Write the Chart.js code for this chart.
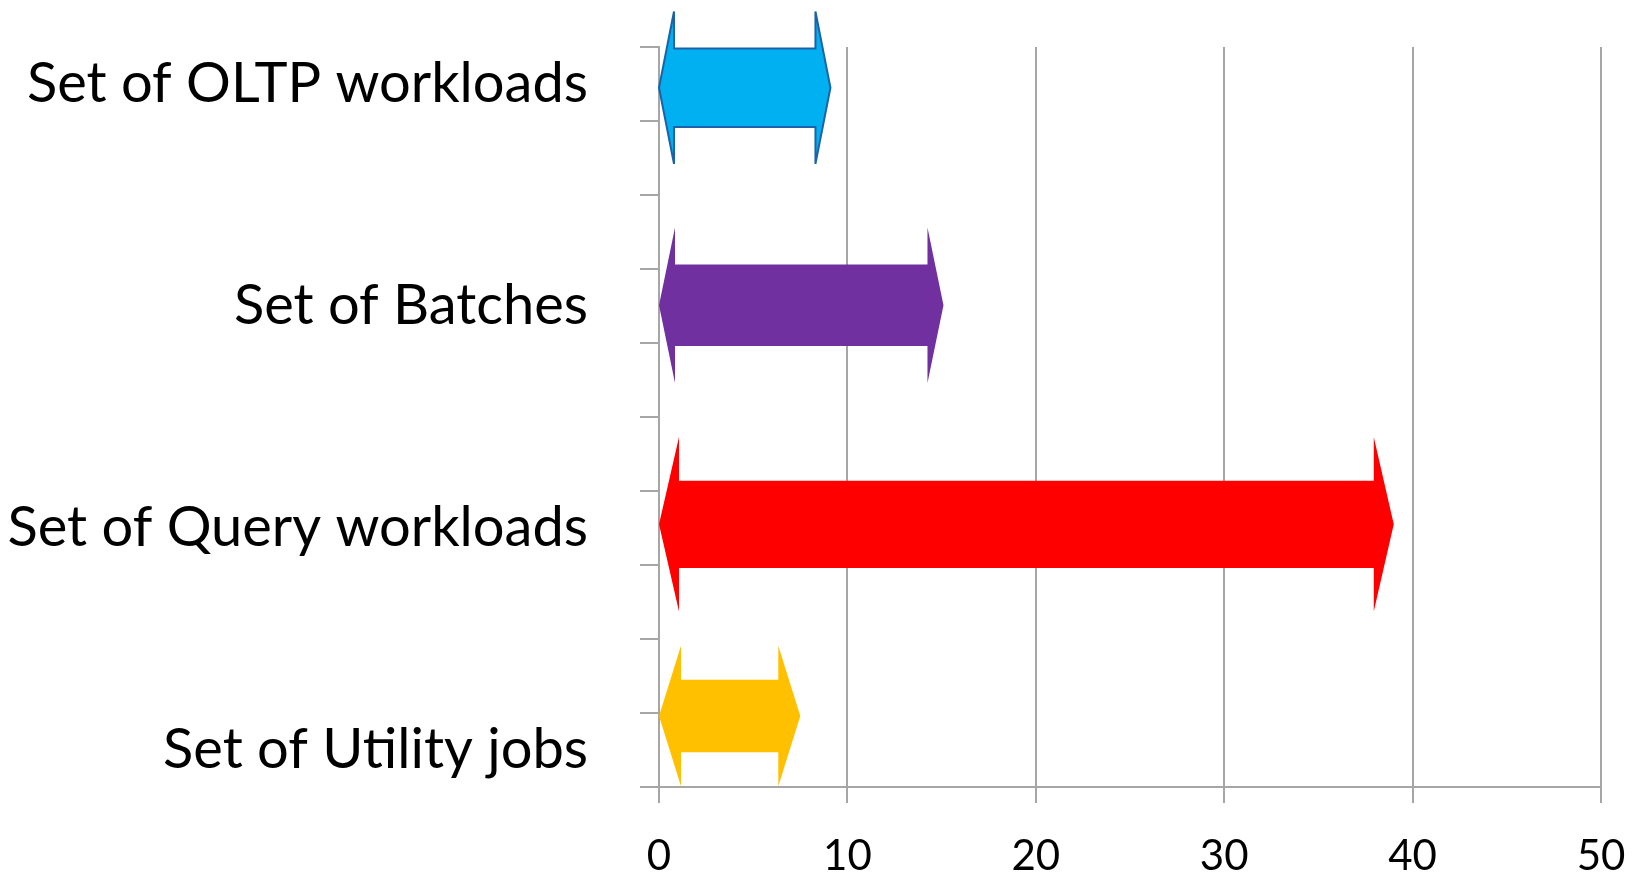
<!DOCTYPE html>
<html>
<head>
<meta charset="utf-8">
<title>Workload ranges</title>
<script src="https://cdn.jsdelivr.net/npm/chart.js@4"></script>
<style>
  html, body { margin: 0; padding: 0; background: #fff; }
  canvas { display: block; }
</style>
</head>
<body>
<canvas id="chart" width="1632" height="877"></canvas>
<script>
// categories on the y axis (10 rows, only 4 carry a label)
const categories = [
  "Set of OLTP workloads", "", "",
  "Set of Batches", "", "",
  "Set of Query workloads", "", "",
  "Set of Utility jobs",
];

// arrows: where each one starts/ends on the x axis and which row it sits on
const arrowNames = ["OLTP", "Batches", "Query", "Utility"];
const arrowStart = [0, 0, 0, 0];
const arrowEnd = [9.1, 15.1, 39.0, 7.5];
const arrowRow = [0.05, 2.99, 5.95, 8.54];

const xTicks = [0, 10, 20, 30, 40, 50];

// look of each arrow (shaft / head half height in rows, head length in px)
const arrowStyle = [
  { fill: "#00B0F0", stroke: "#1C62A8", shaft: 0.53, head: 1.03, len: 15 },
  { fill: "#7030A0", stroke: null, shaft: 0.55, head: 1.05, len: 16 },
  { fill: "#FF0000", stroke: null, shaft: 0.59, head: 1.18, len: 20 },
  { fill: "#FFC000", stroke: null, shaft: 0.49, head: 0.95, len: 22 },
];

const GRID = "#A6A6A6";
const FONT = "Lato, 'Open Sans', sans-serif";

const arrowPlugin = {
  id: "arrows",
  afterDatasetsDraw(chart) {
    const { ctx, scales: { x, y } } = chart;
    const rowH = y.getPixelForValue(1) - y.getPixelForValue(0);
    ctx.save();
    arrowNames.forEach((name, i) => {
      const s = arrowStyle[i];
      const x0 = x.getPixelForValue(arrowStart[i]);
      const x1 = x.getPixelForValue(arrowEnd[i]);
      const yc = y.getPixelForValue(arrowRow[i]);
      const sh = s.shaft * rowH, hh = s.head * rowH;
      ctx.beginPath();
      ctx.moveTo(x0, yc);
      ctx.lineTo(x0 + s.len, yc - hh);
      ctx.lineTo(x0 + s.len, yc - sh);
      ctx.lineTo(x1 - s.len, yc - sh);
      ctx.lineTo(x1 - s.len, yc - hh);
      ctx.lineTo(x1, yc);
      ctx.lineTo(x1 - s.len, yc + hh);
      ctx.lineTo(x1 - s.len, yc + sh);
      ctx.lineTo(x0 + s.len, yc + sh);
      ctx.lineTo(x0 + s.len, yc + hh);
      ctx.closePath();
      ctx.fillStyle = s.fill;
      ctx.fill();
      if (s.stroke) {
        ctx.lineWidth = 2;
        ctx.lineJoin = "miter";
        ctx.strokeStyle = s.stroke;
        ctx.stroke();
      }
    });
    ctx.restore();
  },
};

// invisible floating bars so the data lives in a dataset too
const barData = categories.map(() => null);
arrowNames.forEach((n, i) => { barData[Math.round(arrowRow[i])] = [arrowStart[i], arrowEnd[i]]; });

new Chart(document.getElementById("chart"), {
  type: "bar",
  data: {
    labels: categories,
    datasets: [{ label: "range", data: barData, backgroundColor: "rgba(0,0,0,0)", borderWidth: 0 }],
  },
  options: {
    indexAxis: "y",
    responsive: false,
    animation: false,
    layout: { padding: { top: 47, right: 31, left: 0, bottom: 0 } },
    plugins: { legend: { display: false }, tooltip: { enabled: false } },
    scales: {
      x: {
        min: 0,
        max: 50,
        afterBuildTicks: (axis) => { axis.ticks = xTicks.map(v => ({ value: v })); },
        afterFit: (axis) => { axis.height = 90; axis.paddingLeft = 0; axis.paddingRight = 0; },
        grid: { color: GRID, lineWidth: 2, tickLength: 16, tickColor: GRID },
        border: { color: GRID, width: 2 },
        ticks: { color: "#000", padding: 28, font: { family: FONT, size: 42 } },
      },
      y: {
        afterFit: (axis) => { axis.width = 659; axis.paddingTop = 0; axis.paddingBottom = 0; },
        grid: { drawOnChartArea: false, offset: true, color: GRID, lineWidth: 2, tickLength: 19 },
        border: { color: GRID, width: 2 },
        ticks: { color: "#000", padding: 52, autoSkip: false, font: { family: FONT, size: 56 } },
      },
    },
  },
  plugins: [arrowPlugin],
});
</script>
</body>
</html>
